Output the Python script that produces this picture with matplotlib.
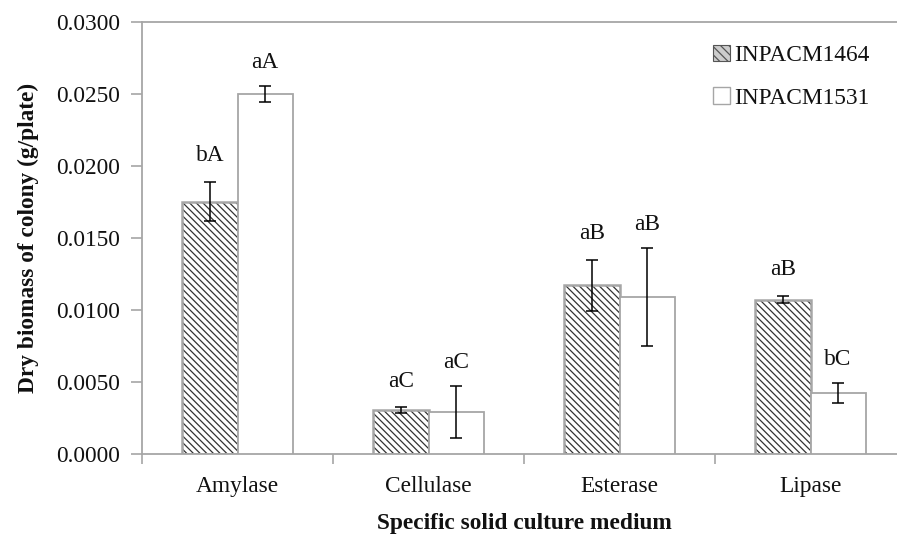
import numpy as np
import matplotlib
matplotlib.use('Agg')
import matplotlib.pyplot as plt
from matplotlib.patches import Patch

plt.rcParams['font.family'] = 'Liberation Serif'
plt.rcParams['hatch.linewidth'] = 0.9

# --- DATA ---
categories = ['Amylase', 'Cellulase', 'Esterase', 'Lipase']
strain_names = ['INPACM1464', 'INPACM1531']
biomass_1464 = [0.0175, 0.0030, 0.0117, 0.0107]
biomass_1531 = [0.0250, 0.0029, 0.0109, 0.0042]
err_1464 = [0.00135, 0.00020, 0.00178, 0.00027]
err_1531 = [0.00055, 0.00180, 0.00340, 0.00070]
letters_1464 = ['bA', 'aC', 'aB', 'aB']
letters_1531 = ['aA', 'aC', 'aB', 'bC']
y_ticks = [0.0, 0.005, 0.010, 0.015, 0.020, 0.025, 0.030]

EDGE_GRAY = '#a6a6a6'
TEXT = '#111111'
FS = 16.8

fig = plt.figure(figsize=(8.97, 5.35), dpi=100)
# plot area runs slightly past the right edge of the picture, like the original
ax = fig.add_axes([142 / 897, 1 - 453.5 / 535, 764 / 897, 431.5 / 535])

x = np.arange(len(categories))
w = 0.288

# hatched bars: hatch drawn dark, outline drawn gray on top
ax.bar(x - w / 2, biomass_1464, w, facecolor='white', edgecolor='#333333',
       hatch='\\\\\\\\\\', linewidth=0, zorder=2)
ax.bar(x - w / 2, biomass_1464, w, fill=False, edgecolor=EDGE_GRAY, linewidth=1.8, zorder=3)
ax.bar(x + w / 2, biomass_1531, w, facecolor='white', edgecolor=EDGE_GRAY, linewidth=1.3, zorder=3)

ax.errorbar(x - w / 2, biomass_1464, yerr=err_1464, fmt='none', ecolor='black',
            elinewidth=1.1, capsize=4, capthick=1.1, zorder=4)
ax.errorbar(x + w / 2, biomass_1531, yerr=err_1531, fmt='none', ecolor='black',
            elinewidth=1.1, capsize=4, capthick=1.1, zorder=4)

# significance letters above error bars
for xi, h, e, lab in zip(x - w / 2, biomass_1464, err_1464, letters_1464):
    ax.annotate(lab, (xi, h + e), xytext=(0, 19), textcoords='offset points',
                ha='center', va='center', fontsize=FS, color=TEXT)
for xi, h, e, lab in zip(x + w / 2, biomass_1531, err_1531, letters_1531):
    ax.annotate(lab, (xi, h + e), xytext=(0, 17), textcoords='offset points',
                ha='center', va='center', fontsize=FS, color=TEXT)

ax.set_xlim(-0.5, len(categories) - 0.5)
ax.set_ylim(0, 0.030)
ax.set_yticks(y_ticks)
ax.set_yticklabels([f'{v:.4f}' for v in y_ticks])

# x: tick marks at category boundaries, labels at centers
ax.set_xticks(np.arange(len(categories) + 1) - 0.5)
ax.set_xticklabels([])
ax.set_xticks(x, minor=True)
ax.set_xticklabels(categories, minor=True)
ax.tick_params(axis='x', which='minor', length=0, pad=16, labelsize=FS, labelcolor=TEXT)
ax.tick_params(axis='x', which='major', length=7, width=1.2, color=EDGE_GRAY, direction='out')
ax.tick_params(axis='y', length=8, width=1.2, color=EDGE_GRAY, direction='out',
               pad=8, labelsize=FS, labelcolor=TEXT)

for side in ['left', 'bottom', 'top']:
    ax.spines[side].set_color(EDGE_GRAY)
    ax.spines[side].set_linewidth(1.3)
ax.spines['right'].set_visible(False)

ax.set_xlabel('Specific solid culture medium', fontsize=FS, fontweight='bold',
              color=TEXT, labelpad=12)
ax.set_ylabel('Dry biomass of colony (g/plate)', fontsize=FS, fontweight='bold',
              color=TEXT, labelpad=12)

handles = [
    Patch(facecolor='#cccccc', edgecolor='#555555', hatch='\\\\\\\\', linewidth=0.8, label=strain_names[0]),
    Patch(facecolor='white', edgecolor=EDGE_GRAY, linewidth=1.0, label=strain_names[1]),
]
fig.legend(handles=handles, loc='upper right', bbox_to_anchor=(0.993, 0.955),
           frameon=False, fontsize=FS, handlelength=0.7, handleheight=0.7,
           handletextpad=0.2, labelspacing=0.9, labelcolor=TEXT)

plt.savefig('out.png', dpi=100)
